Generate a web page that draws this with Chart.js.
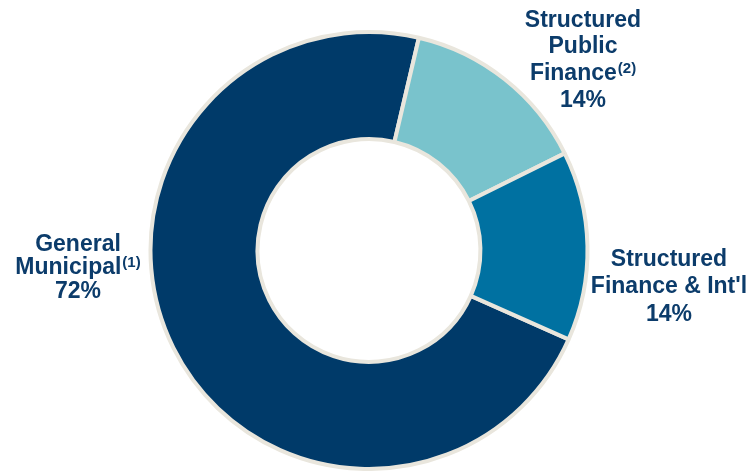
<!DOCTYPE html>
<html>
<head>
<meta charset="utf-8">
<script src="https://cdn.jsdelivr.net/npm/chart.js@4.4.1/dist/chart.umd.min.js"></script>
<style>
  html, body { margin: 0; padding: 0; background: #ffffff; }
  #wrap { width: 753px; height: 471px; position: relative; }
</style>
</head>
<body>
<div id="wrap"><canvas id="chart"></canvas></div>
<script>
// Business mix by segment
const categories = ['General Municipal', 'Structured Public Finance', "Structured Finance & Int'l"];
const shares = [72, 14, 14];
const footnotes = ['(1)', '(2)', ''];
// How each segment name breaks over lines in its label
const labelLines = [
  ['General', 'Municipal'],
  ['Structured', 'Public', 'Finance'],
  ['Structured', "Finance & Int'l"]
];

const sliceColors = ['#003a69', '#79c3cc', '#0071a1'];
const ringBorder = '#e9e6dd';
const textColor = '#0c3c6b';

// Label placement: offset of the text block (centre x, first baseline) from the ring centre
const labelStyle = [
  { dx: -291, dy: 0, lineHeight: 23.5 },
  { dx: 214, dy: -224, lineHeight: 26.8 },
  { dx: 300, dy: 15, lineHeight: 27.6 }
];

const segmentLabels = {
  id: 'segmentLabels',
  afterDraw(chart) {
    const ctx = chart.ctx;
    const arc = chart.getDatasetMeta(0).data[0];
    const cx0 = arc.x, cy0 = arc.y;
    const mainFont = 'bold 23px "Liberation Sans", Arial, sans-serif';
    const noteFont = 'bold 15px "Liberation Sans", Arial, sans-serif';
    ctx.save();
    ctx.fillStyle = textColor;
    ctx.textBaseline = 'alphabetic';
    ctx.textAlign = 'left';
    categories.forEach((name, i) => {
      const st = labelStyle[i];
      const lines = labelLines[i].map((t, k, arr) => ({
        text: t,
        note: k === arr.length - 1 ? footnotes[i] : ''
      }));
      lines.push({ text: shares[i] + '%', note: '' });
      const cx = cx0 + st.dx;
      lines.forEach((ln, k) => {
        const y = cy0 + st.dy + k * st.lineHeight;
        ctx.font = mainFont;
        const w1 = ctx.measureText(ln.text).width;
        ctx.font = noteFont;
        const w2 = ln.note ? ctx.measureText(ln.note).width + 1 : 0;
        const x = cx - (w1 + w2) / 2;
        ctx.font = mainFont;
        ctx.fillText(ln.text, x, y);
        if (ln.note) {
          ctx.font = noteFont;
          ctx.fillText(ln.note, x + w1 + 1, y - 7);
        }
      });
    });
    ctx.restore();
  }
};

new Chart(document.getElementById('chart'), {
  type: 'doughnut',
  data: {
    labels: categories,
    datasets: [{
      data: shares,
      backgroundColor: sliceColors,
      borderColor: ringBorder,
      borderWidth: 4,
      hoverOffset: 0
    }]
  },
  options: {
    responsive: true,
    maintainAspectRatio: false,
    animation: false,
    cutout: '51%',
    rotation: 114,
    layout: { padding: { left: 148, right: 163, top: 30, bottom: 0 } },
    plugins: {
      legend: { display: false },
      tooltip: { enabled: false }
    }
  },
  plugins: [segmentLabels]
});
</script>
</body>
</html>
